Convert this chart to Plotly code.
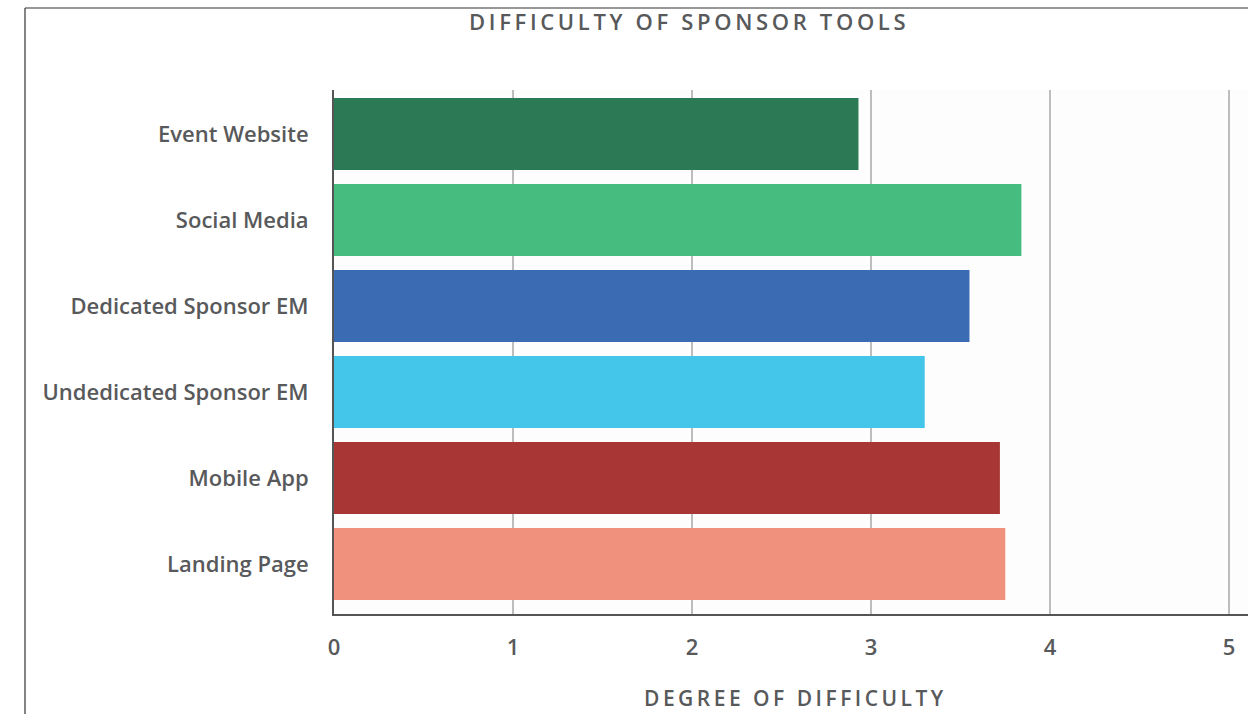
import plotly.graph_objects as go

# Sponsor tools and their average difficulty rating
categories = [
    "Event Website",
    "Social Media",
    "Dedicated Sponsor EM",
    "Undedicated Sponsor EM",
    "Mobile App",
    "Landing Page",
]
difficulty = [2.93, 3.84, 3.55, 3.30, 3.72, 3.75]
bar_colors = ["#2c7a55", "#46bc7f", "#3b6bb3", "#44c5ea", "#a73634", "#f0917e"]
x_ticks = [0, 1, 2, 3, 4, 5]

chart_title = "DIFFICULTY OF SPONSOR TOOLS"
x_title = "DEGREE OF DIFFICULTY"

W, H = 1248, 714
L, R, T, B = 334, 0, 90, 100
plot_w = W - L - R
plot_h = H - T - B


def spaced(text, gap="\u2009"):
    # widen tracking with thin spaces between the letters
    return gap.join(text)


def px_x(px):
    return (px - L) / plot_w


def px_y(py):
    return (H - B - py) / plot_h


TXT = "#58595b"
FONT = "'Open Sans', Lato, sans-serif"

fig = go.Figure(
    go.Bar(
        y=categories,
        x=difficulty,
        orientation="h",
        marker=dict(color=bar_colors, line=dict(width=0)),
        hoverinfo="x+y",
    )
)

fig.update_layout(
    width=W,
    height=H,
    margin=dict(l=L, r=R, t=T, b=B, autoexpand=False),
    paper_bgcolor="#ffffff",
    plot_bgcolor="#fdfdfd",
    bargap=0.163,
    showlegend=False,
    font=dict(family=FONT, color=TXT),
)

fig.update_xaxes(
    range=[0, 5.106],
    tickvals=x_ticks,
    ticktext=[str(v) for v in x_ticks],
    showgrid=True,
    gridcolor="#bdbdbd",
    gridwidth=1.5,
    zeroline=False,
    showline=True,
    linecolor="#555555",
    linewidth=2,
    ticks="",
    ticklabelstandoff=13,
    tickfont=dict(size=22, color=TXT, weight=600),
    fixedrange=True,
)

fig.update_yaxes(
    type="category",
    categoryorder="array",
    categoryarray=categories,
    range=[5.58, -0.512],
    showgrid=False,
    zeroline=False,
    showline=True,
    linecolor="#555555",
    linewidth=2,
    ticks="",
    ticklabelstandoff=19,
    tickfont=dict(size=22, color=TXT, weight=600),
    fixedrange=True,
)

# frame lines along the top and left edges
fig.add_shape(type="line", xref="paper", yref="paper",
              x0=px_x(25), x1=px_x(W + 5), y0=px_y(8), y1=px_y(8),
              line=dict(color="#333333", width=1.2))
fig.add_shape(type="line", xref="paper", yref="paper",
              x0=px_x(25), x1=px_x(25), y0=px_y(8), y1=px_y(H + 5),
              line=dict(color="#333333", width=1.2))

fig.add_annotation(
    text=spaced(chart_title), xref="paper", yref="paper",
    x=px_x(687), y=px_y(21), xanchor="center", yanchor="middle",
    showarrow=False, font=dict(size=22, color=TXT, weight=600),
)
fig.add_annotation(
    text=spaced(x_title), xref="paper", yref="paper",
    x=px_x(794), y=px_y(698), xanchor="center", yanchor="middle",
    showarrow=False, font=dict(size=21, color=TXT, weight=600),
)

fig.write_html("out.html")
